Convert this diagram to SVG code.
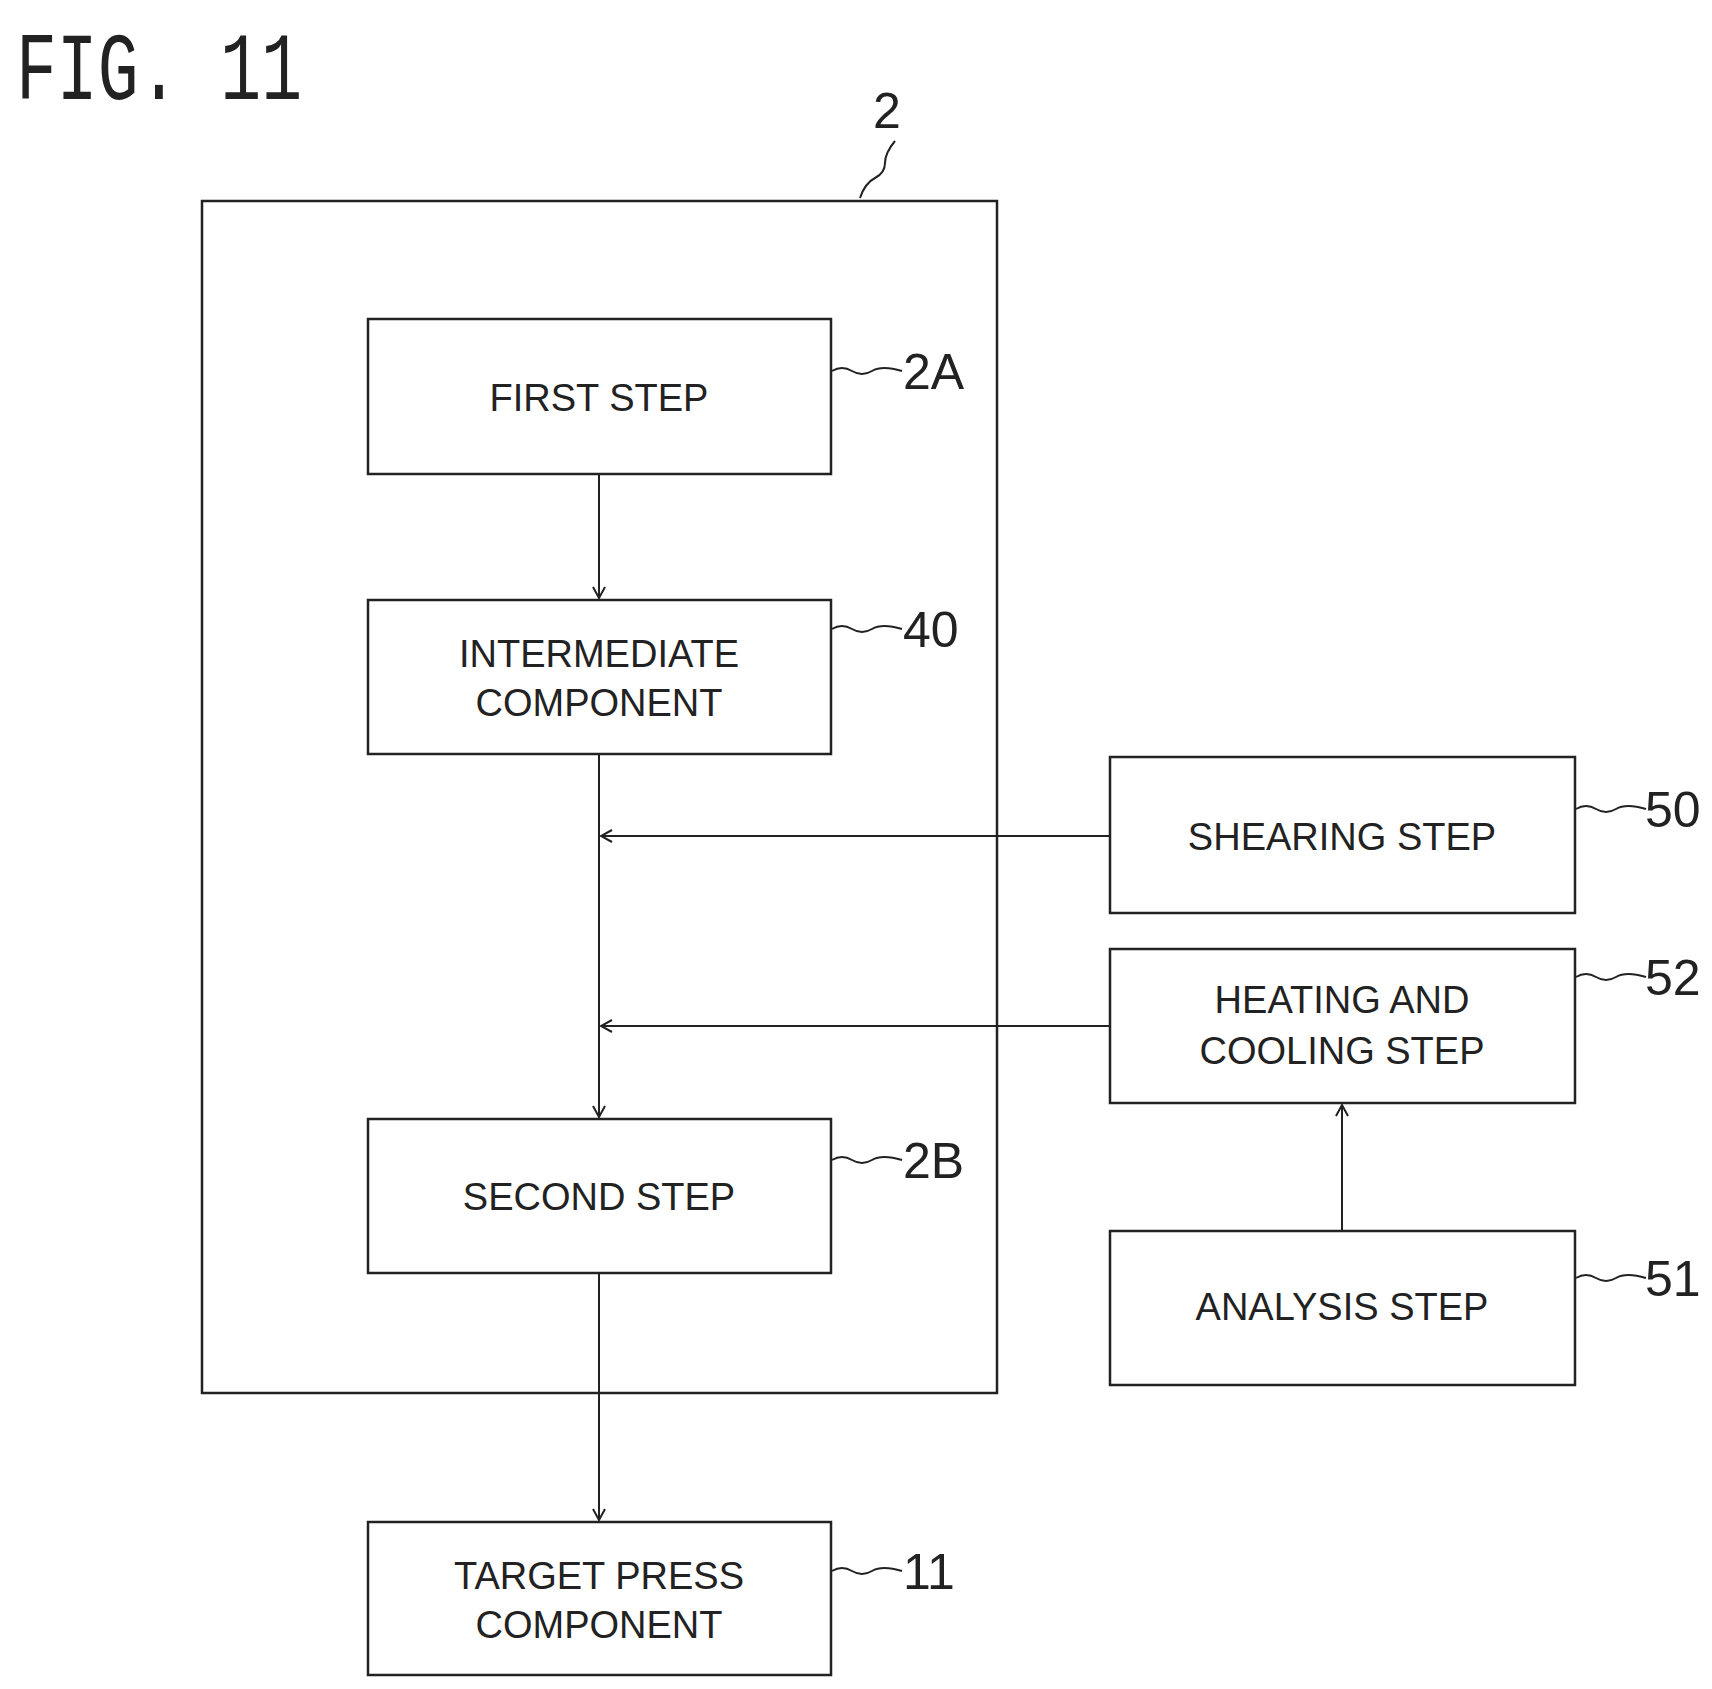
<svg xmlns="http://www.w3.org/2000/svg" width="1712" height="1689" viewBox="0 0 1712 1689">
<style>
.b{fill:none;stroke:#222;stroke-width:2.5}
.t{font-family:"Liberation Sans",Arial,sans-serif;font-size:38px;fill:#222;text-anchor:middle}
.n{font-family:"Liberation Sans",Arial,sans-serif;font-size:50px;fill:#222}
.c{fill:none;stroke:#222;stroke-width:2}
</style>
<defs><marker id="a" markerWidth="14" markerHeight="14" refX="12" refY="7" orient="auto" markerUnits="userSpaceOnUse"><path d="M1,1 L12,7 L1,13" fill="none" stroke="#222" stroke-width="2"/></marker></defs>
<rect width="1712" height="1689" fill="#fff"/>
<text x="16" y="99" textLength="286" lengthAdjust="spacingAndGlyphs" style="font-family:'Liberation Mono',monospace;font-size:96px;fill:#222">FIG. 11</text>
<g id="n2"><rect class="b" x="202" y="201" width="795" height="1192"/><text class="n" x="873" y="128">2</text><path class="c" d="M860,198 q5,-15 15,-20 q10,-5 10,-15 q0,-10 10,-22"/></g>
<g id="n2A"><rect class="b" x="368" y="319" width="463" height="155"/><text class="t" x="599" y="411">FIRST STEP</text><path class="c" d="M832,371 q10,-6 20,0 q10,6 20,0 q10,-6 30,0"/><text class="n" x="903" y="389">2A</text></g>
<g id="n40"><rect class="b" x="368" y="600" width="463" height="154"/><text class="t" x="599" y="667">INTERMEDIATE</text><text class="t" x="599" y="716">COMPONENT</text><path class="c" d="M832,629 q10,-6 20,0 q10,6 20,0 q10,-6 30,0"/><text class="n" x="903" y="647">40</text></g>
<g id="n2B"><rect class="b" x="368" y="1119" width="463" height="154"/><text class="t" x="599" y="1210">SECOND STEP</text><path class="c" d="M832,1160 q10,-6 20,0 q10,6 20,0 q10,-6 30,0"/><text class="n" x="903" y="1178">2B</text></g>
<g id="n11"><rect class="b" x="368" y="1522" width="463" height="153"/><text class="t" x="599" y="1589">TARGET PRESS</text><text class="t" x="599" y="1638">COMPONENT</text><path class="c" d="M832,1571 q10,-6 20,0 q10,6 20,0 q10,-6 30,0"/><text class="n" x="903" y="1589">11</text></g>
<g id="n50"><rect class="b" x="1110" y="757" width="465" height="156"/><text class="t" x="1342" y="850">SHEARING STEP</text><path class="c" d="M1576,809 q10,-6 20,0 q10,6 20,0 q10,-6 30,0"/><text class="n" x="1645" y="827">50</text></g>
<g id="n52"><rect class="b" x="1110" y="949" width="465" height="154"/><text class="t" x="1342" y="1013">HEATING AND</text><text class="t" x="1342" y="1064">COOLING STEP</text><path class="c" d="M1576,977 q10,-6 20,0 q10,6 20,0 q10,-6 30,0"/><text class="n" x="1645" y="995">52</text></g>
<g id="n51"><rect class="b" x="1110" y="1231" width="465" height="154"/><text class="t" x="1342" y="1320">ANALYSIS STEP</text><path class="c" d="M1576,1278 q10,-6 20,0 q10,6 20,0 q10,-6 30,0"/><text class="n" x="1645" y="1296">51</text></g>
<g id="connectors">
<line class="c" x1="599" y1="474" x2="599" y2="598" marker-end="url(#a)"/>
<line class="c" x1="599" y1="754" x2="599" y2="1117" marker-end="url(#a)"/>
<line class="c" x1="1110" y1="836" x2="601" y2="836" marker-end="url(#a)"/>
<line class="c" x1="1110" y1="1026" x2="601" y2="1026" marker-end="url(#a)"/>
<line class="c" x1="1342" y1="1231" x2="1342" y2="1105" marker-end="url(#a)"/>
<line class="c" x1="599" y1="1273" x2="599" y2="1520" marker-end="url(#a)"/>
</g>
</svg>
